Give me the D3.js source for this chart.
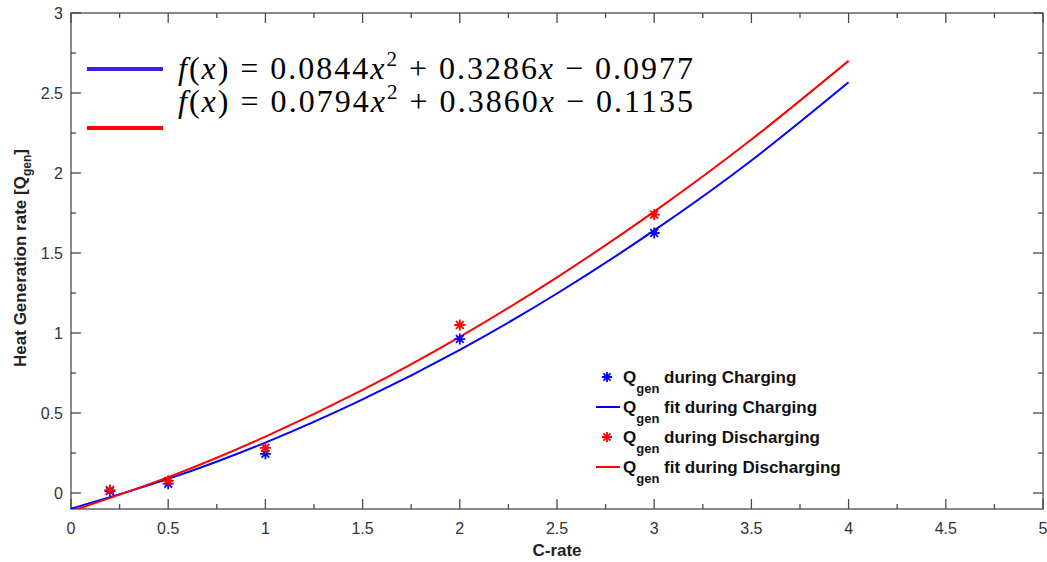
<!DOCTYPE html>
<html>
<head>
<meta charset="utf-8">
<script src="https://cdn.jsdelivr.net/npm/d3@7"></script>
<style>
  body { margin: 0; background: #fff; }
  svg { display: block; }
</style>
</head>
<body>
<svg></svg>
<script>
const w = 1047;
const h = 562;
const padL = 71, padR = 1043, padT = 13, padB = 509;

// measured points
const cRates = [0.2, 0.5, 1, 2, 3];
const qCharge = [0.012, 0.058, 0.245, 0.962, 1.625];
const qDischarge = [0.018, 0.076, 0.282, 1.05, 1.74];

// fitted curves at every 0.5 C
const fitX = [0, 0.5, 1, 1.5, 2, 2.5, 3, 3.5, 4];
const fitCharge = [-0.098, 0.088, 0.315, 0.585, 0.895, 1.247, 1.641, 2.078, 2.567];
const fitDischarge = [-0.114, 0.099, 0.352, 0.644, 0.976, 1.348, 1.759, 2.209, 2.701];

const xTicks = [0, 0.5, 1, 1.5, 2, 2.5, 3, 3.5, 4, 4.5, 5];
const yTicks = [0, 0.5, 1, 1.5, 2, 2.5, 3];

const legendLabels = [" during Charging", " fit during Charging", " during Discharging", " fit during Discharging"];

const svg = d3.select("svg").attr("width", w).attr("height", h);

const x = d3.scaleLinear().domain([0, 5]).range([padL, padR]);
const y = d3.scaleLinear().domain([-0.1, 3]).range([padB, padT]);

const axisColor = "#4a4a4a";
const minorX = d3.range(0.25, 5, 0.5);
const minorY = d3.range(-0.25, 3, 0.5).filter((v) => v > -0.1);

/** box with inward ticks on all four sides */
const axes = svg.append("g").attr("stroke", axisColor).attr("stroke-width", 1.3);
axes.append("rect")
  .attr("x", padL).attr("y", padT)
  .attr("width", padR - padL).attr("height", padB - padT)
  .attr("fill", "none");

const tickLines = (vals, len, vertical) => {
  vals.forEach((v) => {
    if (vertical) {
      axes.append("line").attr("x1", x(v)).attr("x2", x(v)).attr("y1", padB).attr("y2", padB - len);
      axes.append("line").attr("x1", x(v)).attr("x2", x(v)).attr("y1", padT).attr("y2", padT + len);
    } else {
      axes.append("line").attr("y1", y(v)).attr("y2", y(v)).attr("x1", padL).attr("x2", padL + len);
      axes.append("line").attr("y1", y(v)).attr("y2", y(v)).attr("x1", padR).attr("x2", padR - len);
    }
  });
};
tickLines(xTicks, 10, true);
tickLines(minorX, 5, true);
tickLines(yTicks, 10, false);
tickLines(minorY, 5, false);

/** tick labels */
svg.append("g").selectAll("text").data(xTicks).enter().append("text")
  .text((d) => d)
  .attr("x", (d) => x(d)).attr("y", padB + 25)
  .attr("text-anchor", "middle")
  .attr("font-family", "Liberation Sans, Arial, sans-serif")
  .attr("font-size", 16).attr("fill", "#333");

svg.append("g").selectAll("text").data(yTicks).enter().append("text")
  .text((d) => d)
  .attr("x", padL - 8).attr("y", (d) => y(d) + 6)
  .attr("text-anchor", "end")
  .attr("font-family", "Liberation Sans, Arial, sans-serif")
  .attr("font-size", 16).attr("fill", "#333");

/** axis titles */
svg.append("text")
  .text("C-rate")
  .attr("x", (padL + padR) / 2).attr("y", 556)
  .attr("text-anchor", "middle")
  .attr("font-family", "Liberation Sans, Arial, sans-serif")
  .attr("font-weight", "bold").attr("font-size", 17).attr("fill", "#222");

const yl = svg.append("text")
  .attr("transform", "translate(26,258) rotate(-90)")
  .attr("text-anchor", "middle")
  .attr("font-family", "Liberation Sans, Arial, sans-serif")
  .attr("font-weight", "bold").attr("font-size", 17).attr("fill", "#222");
yl.append("tspan").text("Heat Generation rate [Q");
yl.append("tspan").text("gen").attr("font-size", 12).attr("dy", 5);
yl.append("tspan").text("]").attr("dy", -5);

/** fit curves */
svg.append("clipPath").attr("id", "clip")
  .append("rect").attr("x", padL).attr("y", padT)
  .attr("width", padR - padL).attr("height", padB - padT);

const line = d3.line().x((d) => x(d[0])).y((d) => y(d[1])).curve(d3.curveNatural);
const plot = svg.append("g").attr("clip-path", "url(#clip)");

plot.append("path").datum(d3.zip(fitX, fitCharge))
  .attr("d", line).attr("fill", "none").attr("stroke", "#0000ff").attr("stroke-width", 2);
plot.append("path").datum(d3.zip(fitX, fitDischarge))
  .attr("d", line).attr("fill", "none").attr("stroke", "#ff0000").attr("stroke-width", 2);

/** asterisk markers */
const star = (r) => {
  const d = r * Math.SQRT1_2;
  return `M${-r},0L${r},0M0,${-r}L0,${r}M${-d},${-d}L${d},${d}M${-d},${d}L${d},${-d}`;
};
const drawStars = (xs, ys, color) => {
  plot.append("g").selectAll("path").data(d3.zip(xs, ys)).enter().append("path")
    .attr("d", star(5.5))
    .attr("transform", (d) => `translate(${x(d[0])},${y(d[1])})`)
    .attr("fill", "none").attr("stroke", color).attr("stroke-width", 1.8);
};
drawStars(cRates, qCharge, "#0000ff");
drawStars(cRates, qDischarge, "#ff0000");

/** legend, bottom right */
const legendColors = ["#0000ff", "#0000ff", "#ff0000", "#ff0000"];
const lg = svg.append("g").attr("font-family", "Liberation Sans, Arial, sans-serif")
  .attr("font-weight", "bold").attr("fill", "#111");
legendLabels.forEach((lab, i) => {
  const ly = 377 + i * 30;
  if (i % 2 === 0) {
    lg.append("path").attr("d", star(5)).attr("transform", `translate(607,${ly})`)
      .attr("fill", "none").attr("stroke", legendColors[i]).attr("stroke-width", 1.8);
  } else {
    lg.append("line").attr("x1", 596).attr("x2", 620).attr("y1", ly).attr("y2", ly)
      .attr("stroke", legendColors[i]).attr("stroke-width", 2);
  }
  const t = lg.append("text").attr("x", 623).attr("y", ly + 6).attr("font-size", 17);
  t.append("tspan").text("Q");
  t.append("tspan").text("gen").attr("font-size", 13).attr("dy", 10);
  t.append("tspan").text(lab).attr("dy", -10);
});

/** equation annotations */
const eqs = [
  { c: ["0.0844", "0.3286", "0.0977"], color: "#3b22e0", lineY: 69, textY: 79 },
  { c: ["0.0794", "0.3860", "0.1135"], color: "#ff0000", lineY: 128, textY: 112 },
];
eqs.forEach((e) => {
  svg.append("line").attr("x1", 87).attr("x2", 163).attr("y1", e.lineY).attr("y2", e.lineY)
    .attr("stroke", e.color).attr("stroke-width", 4);
  const t = svg.append("text").attr("x", 178).attr("y", e.textY)
    .attr("font-family", "Liberation Serif, DejaVu Serif, serif").attr("font-size", 32)
    .attr("fill", "#000").attr("textLength", 515).attr("lengthAdjust", "spacing");
  t.append("tspan").text("f").attr("font-style", "italic");
  t.append("tspan").text("(");
  t.append("tspan").text("x").attr("font-style", "italic");
  t.append("tspan").text(") = " + e.c[0]);
  t.append("tspan").text("x").attr("font-style", "italic");
  t.append("tspan").text("2").attr("font-size", 21).attr("dy", -13);
  t.append("tspan").text(" + " + e.c[1]).attr("dy", 13);
  t.append("tspan").text("x").attr("font-style", "italic");
  t.append("tspan").text(" \u2212 " + e.c[2]);
});
</script>
</body>
</html>
